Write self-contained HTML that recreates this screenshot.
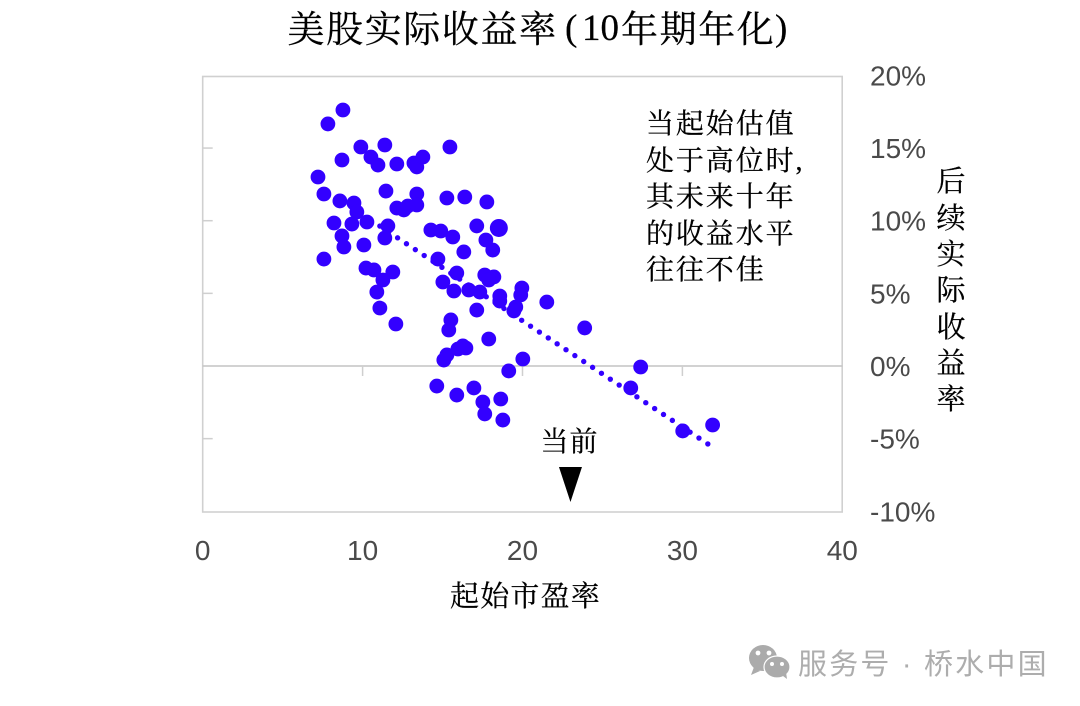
<!DOCTYPE html>
<html lang="zh">
<head>
<meta charset="utf-8">
<title>美股实际收益率</title>
<style>
html,body{margin:0;padding:0;background:#fff;width:1080px;height:706px;overflow:hidden}
svg{display:block}
.cjk{font-family:"Liberation Serif","Noto Serif CJK SC",serif;fill:#000;stroke:#000;stroke-width:.25}
.tick{font-family:"Liberation Sans",sans-serif;font-size:28px;fill:#4a4a4a}
</style>
</head>
<body>
<svg id="chart" width="1080" height="706" viewBox="0 0 1080 706" xmlns="http://www.w3.org/2000/svg">
<rect width="1080" height="706" fill="#fff"/>
<text class="cjk" y="42" font-size="37" letter-spacing="1.6"><tspan x="287.5">美股实际收益率</tspan><tspan x="565" y="40" letter-spacing="0">(</tspan><tspan x="582" y="40" letter-spacing="0">10</tspan><tspan x="621" y="42">年期年化</tspan><tspan x="775" y="40" letter-spacing="0">)</tspan></text>
<rect x="202.7" y="76.5" width="639.5" height="435.5" fill="none" stroke="#d0d0d0" stroke-width="1.6"/>
<g id="axes"></g>
<g id="trend"></g>
<g id="points"></g>
<g class="cjk" font-size="28" letter-spacing="1.9">
<text x="646" y="133">当起始估值</text>
<text x="646" y="170">处于高位时,</text>
<text x="646" y="206">其未来十年</text>
<text x="646" y="243">的收益水平</text>
<text x="646" y="279">往往不佳</text>
</g>
<g class="cjk" font-size="29" text-anchor="middle">
<text x="951" y="191">后</text>
<text x="951" y="228">续</text>
<text x="951" y="264">实</text>
<text x="951" y="300">际</text>
<text x="951" y="337">收</text>
<text x="951" y="373">益</text>
<text x="951" y="409">率</text>
</g>
<text class="cjk" x="450" y="606" font-size="29" letter-spacing="1.2">起始市盈率</text>
<g id="current"></g>
<g>
<g fill="#ababab">
<ellipse cx="763" cy="658" rx="14" ry="13"/>
<path d="M754 667l-3 8 9-4z"/>
<ellipse cx="777" cy="667" rx="13" ry="11" stroke="#fff" stroke-width="1.2"/>
<path d="M783 676l4 3-1-7z"/>
<circle cx="758" cy="653" r="2.4" fill="#fff"/>
<circle cx="769" cy="653" r="2.4" fill="#fff"/>
<circle cx="772" cy="664" r="2" fill="#fff"/>
<circle cx="782" cy="664" r="2" fill="#fff"/>
</g>
<text x="798" y="674" font-size="29" letter-spacing="2.2" fill="#adadad" font-family="'Liberation Sans','Noto Sans CJK SC',sans-serif">服务号 · 桥水中国</text>
</g>
</svg>
<script>
const xTicks = [0, 10, 20, 30, 40];
const yTicks = [20, 15, 10, 5, 0, -5, -10];
const peValues = [8.77,7.83,9.89,11.39,8.71,10.52,10.96,12.14,13.21,13.39,13.77,15.46,7.21,7.58,11.46,8.58,9.46,9.64,13.39,15.27,16.39,17.77,8.21,9.33,10.27,11.58,11.39,8.71,8.83,10.08,7.58,12.14,12.58,12.83,13.39,14.27,14.89,15.64,17.14,17.71,18.14,16.33,14.71,15.89,15.02,15.71,10.21,10.71,11.89,11.27,10.89,11.08,12.08,16.64,17.33,17.64,18.21,17.89,18.58,18.58,19.96,19.89,19.58,19.46,17.14,15.52,15.39,17.89,21.52,23.89,15.08,15.27,15.96,16.27,16.46,20.02,19.14,14.64,15.89,16.96,17.52,17.64,18.64,18.77,27.39,26.77,30.02,31.89];
const returnValues = [17.62,16.66,15.07,15.21,14.18,14.38,13.83,13.90,13.97,13.70,14.38,15.07,13.01,11.84,12.04,11.36,11.22,10.60,11.84,11.56,11.63,11.29,9.84,9.77,9.91,9.64,8.81,8.95,8.19,8.33,7.36,10.87,10.74,11.01,11.08,9.36,9.29,8.88,9.64,8.67,7.98,7.85,7.36,6.40,5.78,5.16,6.74,6.61,6.47,5.92,5.09,3.99,2.89,5.23,5.09,6.26,6.13,5.92,4.82,4.47,5.37,4.89,4.06,3.79,3.85,3.17,2.48,1.86,4.40,2.62,0.41,0.76,1.17,1.38,1.24,0.48,-0.34,-1.38,-2.00,-1.51,-2.48,-3.30,-2.27,-3.72,-0.07,-1.51,-4.47,-4.06];
const largePe = [18.52];
const largeReturn = [9.50];
const trendPe = [11.08, 31.6];
const trendReturn = [9.63, -5.37];
const currentPe = [23];
const currentLabel = '当前';

const NS = 'http://www.w3.org/2000/svg';
const BLUE = '#3300ff';
function xScale(v){ return 202.7 + v * 15.99; }
function yScale(v){ return 366 - v * 14.53; }
function make(tag, attrs, parent){
  const el = document.createElementNS(NS, tag);
  for (const k in attrs) el.setAttribute(k, attrs[k]);
  parent.appendChild(el);
  return el;
}
const axes = document.getElementById('axes');
const zeroLine = make('line', {x1:xScale(0), x2:xScale(40), y1:yScale(0), y2:yScale(0), stroke:'#c4c4c4', 'stroke-width':1.5}, axes);


xTicks.forEach(function(t){
  if (t > 0 && t < 40) {
    const m = make('line', {x1:xScale(t), x2:xScale(t), y1:yScale(0), y2:yScale(0)+10, stroke:'#cfcfcf', 'stroke-width':1.5}, axes);
    
    
  }
  const l = make('text', {x:xScale(t), y:560, 'text-anchor':'middle', class:'tick'}, axes);
  
  
  l.textContent = String(t);
});
yTicks.forEach(function(t){
  if (t < 20 && t > -10 && t !== 0) {
    const m = make('line', {x1:xScale(0), x2:xScale(0)+10, y1:yScale(t), y2:yScale(t), stroke:'#cfcfcf', 'stroke-width':1.5}, axes);
    
    
  }
  const l = make('text', {x: 870, y:yScale(t)+10, class:'tick'}, axes);
  
  
  l.textContent = t + '%';
});
const trendGroup = document.getElementById('trend');
const tdx = xScale(trendPe[1]) - xScale(trendPe[0]);
const tdy = yScale(trendReturn[1]) - yScale(trendReturn[0]);
const trendPeriod = Math.hypot(tdx, tdy) / 37 * 0.9995;
const trendLine = make('line', {x1:xScale(trendPe[0]), y1:yScale(trendReturn[0]), x2:xScale(trendPe[1]), y2:yScale(trendReturn[1]), stroke:BLUE, 'stroke-width':5.4, 'stroke-linecap':'round', 'stroke-dasharray':'0 ' + trendPeriod}, trendGroup);


const pointsGroup = document.getElementById('points');
peValues.forEach(function(pe, i){
  const c = make('circle', {cx:xScale(pe), cy:yScale(returnValues[i]), r:7.4, fill:BLUE}, pointsGroup);
  
  
});
largePe.forEach(function(pe, i){
  const c = make('circle', {cx:xScale(pe), cy:yScale(largeReturn[i]), r:9, fill:BLUE}, pointsGroup);
  
  
});
const current = document.getElementById('current');
const cx = xScale(currentPe[0]);
const label = make('text', {x:cx-1, y:451, 'text-anchor':'middle', 'font-size':28, 'letter-spacing':1, class:'cjk'}, current);


label.textContent = currentLabel;
const arrow = make('polygon', {points:(cx-11.5)+',467 '+(cx+11.5)+',467 '+cx+',502', fill:'#000'}, current);


</script>
</body>
</html>
